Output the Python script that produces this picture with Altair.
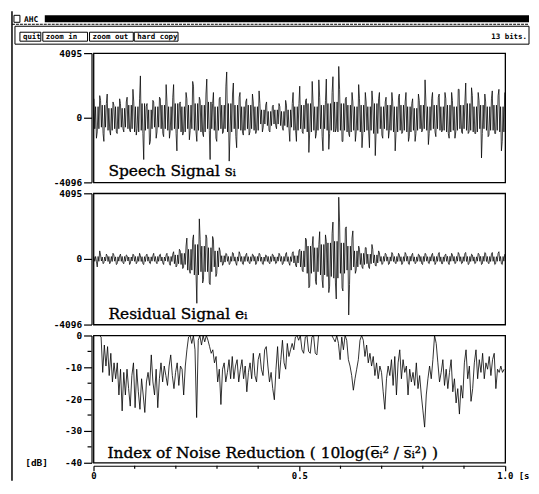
import altair as alt
import pandas as pd

# ---------------- data ----------------
# Speech signal s_i : per-column maximum / minimum (124 columns across 0..1 s)
speech_hi = [1200, 1400, 1100, 900, 1500, 1000, 800, 1200, 900, 1000,
             1300, 1800, 1000, 1200, 2650, 700, 900, 1100, 1000, 1300,
             1200, 2100, 1000, 1300, 2100, 900, 1000, 1600, 1200, 2300,
             2000, 1300, 1100, 1500, 2450, 900, 1600, 1200, 1300, 2000,
             2900, 1500, 2200, 1300, 1600, 1000, 1200, 1500, 1000, 1700,
             900, 800, 1000, 700, 800, 900, 700, 1100, 800, 900,
             1600, 900, 2000, 1100, 1200, 2300, 1000, 2400, 1300, 1100,
             2450, 1600, 2600, 3250, 1800, 1200, 1300, 1600, 1000, 2100,
             1200, 1600, 1000, 1700, 1000, 1200, 1600, 1000, 1300, 1600,
             1000, 1300, 1500, 1000, 1600, 900, 1200, 1500, 1100, 2400,
             1000, 1200, 1600, 1300, 1500, 1600, 1200, 1600, 1100, 1800,
             1800, 1000, 2200, 1900, 1400, 1600, 1100, 1500, 1000, 1200,
             1700, 1400, 1800, 1600]
speech_lo = [-1300, -900, -1000, -1500, -800, -1100, -900, -1000, -700, -900,
             -800, -900, -1100, -700, -1000, -2650, -1700, -1500, -1300, -900,
             -1000, -1200, -1300, -800, -1000, -2100, -1100, -900, -1400, -800,
             -900, -1500, -1000, -1200, -800, -2650, -1300, -1500, -1000, -900,
             -2750, -1100, -1200, -1900, -900, -1100, -1100, -900, -1000, -800,
             -900, -600, -800, -900, -500, -700, -600, -800, -700, -1500,
             -800, -1500, -900, -1000, -2200, -900, -1300, -1000, -1200, -2100,
             -2000, -1000, -900, -700, -1500, -1500, -1000, -1200, -1500, -900,
             -1900, -1000, -900, -1900, -2400, -900, -1100, -1300, -1300, -800,
             -2100, -1000, -1000, -900, -1500, -1200, -1500, -1000, -900, -800,
             -1700, -1000, -900, -1200, -900, -800, -1000, -1300, -1300, -900,
             -900, -1000, -1000, -900, -1000, -1000, -2550, -1000, -1200, -1100,
             -1000, -1000, -2100, -1500]
# dense inner band of the speech trace (one value per two columns)
speech_mid_hi = [700, 800, 600, 700, 600, 800, 700, 900, 500, 700,
                 800, 700, 900, 700, 800, 900, 800, 1000, 700, 800,
                 900, 800, 700, 800, 700, 500, 400, 500, 400, 500,
                 700, 800, 900, 700, 800, 900, 1000, 900, 800, 700,
                 800, 700, 900, 700, 800, 700, 800, 700, 600, 800,
                 700, 800, 700, 800, 700, 800, 900, 700, 800, 700,
                 800, 700]
speech_mid_lo = [-700, -600, -800, -700, -600, -700, -900, -800, -700, -600,
                 -700, -800, -700, -900, -700, -800, -900, -700, -800, -700,
                 -900, -700, -800, -700, -800, -400, -500, -400, -500, -600,
                 -800, -700, -900, -800, -700, -800, -900, -800, -900, -800,
                 -900, -800, -1000, -700, -800, -900, -800, -900, -800, -700,
                 -800, -700, -800, -900, -800, -700, -800, -900, -700, -800,
                 -800, -900]

# Residual signal e_i : per-column maximum / minimum
res_hi = [150, 500, 250, 300, 200, 350, 250, 200, 300, 250,
          200, 300, 250, 350, 200, 250, 300, 200, 350, 250,
          300, 250, 350, 300, 450, 600, 500, 800, 1300, 1200,
          1500, 2500, 1200, 1500, 1300, 1400, 1200, 700, 500, 350,
          300, 400, 350, 450, 300, 250, 350, 300, 250, 350,
          300, 250, 200, 300, 250, 350, 250, 300, 400, 350,
          450, 500, 600, 1300, 1200, 800, 1400, 900, 1700, 1500,
          1100, 1600, 2300, 3850, 2300, 1900, 2000, 1300, 1750, 800,
          600, 700, 700, 900, 600, 500, 400, 350, 300, 400,
          300, 350, 250, 400, 300, 250, 350, 300, 250, 350,
          300, 250, 350, 300, 400, 250, 300, 350, 250, 400,
          300, 350, 400, 300, 250, 350, 300, 400, 350, 300,
          400, 350, 450, 300]
res_lo = [-150, -500, -300, -250, -300, -200, -350, -300, -250, -300,
          -350, -250, -300, -200, -300, -350, -250, -300, -200, -300,
          -250, -350, -300, -400, -500, -400, -600, -500, -700, -900,
          -900, -2770, -1500, -1300, -1500, -1600, -1100, -900, -400, -300,
          -350, -300, -250, -400, -300, -350, -250, -300, -350, -250,
          -300, -350, -250, -300, -300, -250, -350, -300, -250, -400,
          -400, -500, -700, -800, -1800, -1700, -1400, -1600, -1300, -1800,
          -2100, -1700, -1500, -2500, -1800, -2000, -3500, -1600, -900, -700,
          -500, -600, -500, -600, -400, -450, -350, -300, -350, -300,
          -250, -300, -350, -250, -300, -350, -300, -250, -300, -350,
          -250, -300, -350, -250, -300, -300, -250, -350, -300, -250,
          -300, -250, -350, -300, -300, -250, -350, -300, -250, -300,
          -350, -300, -300, -350]
res_mid_hi = [150, 120, 150, 130, 150, 120, 150, 140, 130, 150, 120, 150,
              250, 350, 600, 900, 800, 700, 500, 200,
              150, 130, 150, 140, 150, 120, 150, 130, 150, 140, 200,
              500, 800, 700, 900, 1000, 1100, 1000, 800, 500,
              350, 300, 250,
              150, 130, 150, 140, 160, 130, 150, 140, 150, 130, 160, 150, 140,
              150, 130, 160, 150, 140, 150]
res_mid_lo = [-150, -130, -160, -140, -150, -130, -150, -160, -140, -150, -130, -160,
              -300, -350, -700, -1000, -800, -800, -500, -200,
              -150, -140, -160, -150, -140, -150, -160, -140, -150, -160, -250,
              -500, -900, -800, -1000, -1100, -1200, -900, -700, -500,
              -350, -300, -250,
              -150, -140, -160, -150, -140, -150, -160, -140, -150, -160, -150, -140,
              -150, -160, -140, -150, -160, -150, -140]

# Index of noise reduction [dB]
nr_first = [0, -0.5, -11.6, -3, -9.6, -3.5, -12.6, -5.6, -14.6, -8.6,
            -13.6, -8.6, -18.7, -10.6, -23.7, -11.6, -18.7, -10.6, -16.7, -22.2,
            -12.6, -8.6, -22.7, -10.6, -17.7, -23.2, -13.6, -18.7, -24.2, -14.6,
            -11.6, -15.7, -6.1, -14.6, -18.7, -10.6, -22.7, -13.6, -8.6, -14.6,
            -9.6, -12.6, -15.7, -9.6, -6.1, -12.6, -16.7, -11.6, -8.6, -15.7,
            -9.6, -10.6, -18.7, -9.6, -4.5, -0.5, 0, -2.5, 0, -4.5,
            -25.8, -1.5, 0, -3, 0, -2, 0, -1.5, -3.5, -5.6,
            -4.5, -8.6, -6.6, -14.6, -10.6, -21.7, -10.6, -8.6, -14.6, -11.6,
            -7.6, -13.6, -6.6, -13.6, -9.6, -7.6, -14.6, -10.6, -7.6, -13.6,
            -9.6, -17.7, -11.6, -8.6, -13.6, -5.6, -12.6, -14.6, -7.6, -5.6,
            -10.6, -12.6, -4.5, -3.5, -9.6, -14.6, -11.6, -16.7, -20.2, -10.6,
            -3.5, -13.6, -7.6, -1.5, -8.6, -10.6, -2.5, -6.6, -4.5, -2.5,
            -4.5, -0.5, 0]
nr_second = [-1.5, 0, -4.5, -5.6, -0.5, 0, -5, -5.6, -0.5, 0,
             -5.6, -6.1, 0, 0, 0, 0, 0, 0, 0, 0,
             0, -1, -2, 0, -2.5, -7.6, -0.5, -4.5, 0, -1.5,
             -7.6, -9.6, -12.6, -17.2, -13.6, -10.6, -7.6, -1.5, 0, -1.5,
             -6.6, -3, -8.6, -5.6, -9.6, -6.6, -12.6, -8.6, -13.6, -9.6,
             -11.6, -17.7, -23.2, -13.6, -9.6, -12.6, -7.6, -15.7, -6.6, -18.7,
             -8.6, -4.5, -13.6, -7.6, -11.6, -9.6, -18.7, -10.6, -14.6, -11.6,
             -15.7, -8.6, -16.7, -12.6, -18.7, -23.7, -28.8, -18.7, -13.6, -9.6,
             -13.6, -7.6, 0, -2.5, -8.6, -14.6, -11.6, -7.6, -15.7, -10.6,
             -16.7, -11.6, -7.6, -17.7, -13.6, -21.2, -16.7, -24.7, -15.7, -19.7,
             -8.6, -4.5, -13.6, -9.6, -20.7, -16.7, -8.6, -4.5, -13.6, -7.6,
             -11.6, -5.6, -13.6, -8.6, -10.6, -6.6, -12.6, -7.6, -5.6, -16.7,
             -10.6, -11.6, -9.6, -11.6, -10.6]
nr_first_span = (0.0145, 0.4944)   # time range (s) of first block of samples
nr_second_span = (0.4984, 0.9976)  # time range (s) of second block

y_ticks_sig = [-4096, 0, 4095]
y_ticks_db = [-40, -30, -20, -10, 0]
y_minor_db = [-35, -25, -15, -5]
x_ticks = [0, 0.5, 1.0]
x_minor = [0.1, 0.2, 0.3, 0.4, 0.6, 0.7, 0.8, 0.9]


def trace(hi, lo, mid_hi, mid_lo):
    """Per column: extreme up, inner band, extreme down (order alternates)."""
    n = len(hi)
    rows = []
    for i in range(n):
        mh, ml = mid_hi[i // 2], mid_lo[i // 2]
        seq = [hi[i], ml, mh, lo[i]] if i % 2 == 0 else [lo[i], mh, ml, hi[i]]
        for k, v in enumerate(seq):
            rows.append({"t": (i + (k + 0.5) / 4) / n, "v": v})
    return pd.DataFrame(rows)


def series(vals, span):
    a, b = span
    n = len(vals)
    return [{"t": a + (b - a) * i / (n - 1), "v": v} for i, v in enumerate(vals)]


sp_df = trace(speech_hi, speech_lo, speech_mid_hi, speech_mid_lo)
re_df = trace(res_hi, res_lo, res_mid_hi, res_mid_lo)
nr_df = pd.DataFrame(series(nr_first, nr_first_span) + series(nr_second, nr_second_span))

# ---------------- styling ----------------
W = 414
H1, H2, H3 = 130, 132, 128
MONO = "DejaVu Sans Mono"
SERIF = "DejaVu Serif"
xs = alt.Scale(domain=[0, 1], nice=False, zero=False)
one = pd.DataFrame({"a": [0]})


def yaxis(values, expr):
    return alt.Axis(values=values, title=None, grid=False, offset=2, tickSize=8,
                    tickColor="black", domainColor="black", tickWidth=1.2, domainWidth=1.2,
                    labelFont=MONO, labelFontSize=9.5, labelFontWeight="bold",
                    labelColor="black", labelPadding=2, labelFlush=False,
                    labelOverlap=False, labelExpr=expr)


def rect(x, x2, y, y2, fill="white", op=0.0, sw=1.0):
    return alt.Chart(one).mark_rect(fill=fill, fillOpacity=op, stroke="black",
                                    strokeWidth=sw).encode(
        x=alt.value(x), x2=alt.value(x2), y=alt.value(y), y2=alt.value(y2))


def rule(x, x2, y, y2, sw=1.0, dash=None):
    kw = {"strokeDash": dash} if dash else {}
    return alt.Chart(one).mark_rule(color="black", strokeWidth=sw, **kw).encode(
        x=alt.value(x), x2=alt.value(x2), y=alt.value(y), y2=alt.value(y2))


def label(txt, x, y, size=7.5, font=MONO, weight="bold", align="left", bold_stroke=0.0):
    kw = {"stroke": "black", "strokeWidth": bold_stroke} if bold_stroke else {}
    return alt.Chart(pd.DataFrame({"s": [txt]})).mark_text(
        align=align, baseline="alphabetic", font=font, fontSize=size,
        fontWeight=weight, color="black", **kw).encode(
        x=alt.value(x), y=alt.value(y), text="s:N")


sig_expr = "'' + datum.value"
sig_scale = alt.Scale(domain=[-4096, 4095], nice=False, zero=False)

# ---------- panel 1 : speech ----------
p1_line = alt.Chart(sp_df).mark_line(color="black", strokeWidth=0.75).encode(
    x=alt.X("t:Q", scale=xs, axis=None),
    y=alt.Y("v:Q", scale=sig_scale, axis=yaxis(y_ticks_sig, sig_expr)))
p1_txt = label("Speech Signal sᵢ", 15, 124, size=15.5, font=SERIF, weight="normal",
               bold_stroke=0.35)

chrome = [
    rule(-82, -82, -42, 430, sw=1.5),                 # window left frame
    rect(-80, -74, -38, -31, sw=1),                   # title-bar icon
    label("AHC", -70, -31.5, size=8),
    rect(-49, 438, -38, -31, fill="black", op=1.0, sw=0),
    rule(-82, 438, -29, -29, sw=1, dash=[3, 1]),
    rect(-79, 438, -27, -9, sw=1),                    # button row
    rect(-74, -53, -21, -12), label("quit", -71, -14),
    rect(-51, -6, -21, -12), label("zoom in", -48, -14),
    rect(-4, 40, -21, -12), label("zoom out", -1, -14),
    rect(41, 85, -21, -12), label("hard copy", 44, -14),
    label("13 bits.", 400, -14),
]
p1 = alt.layer(p1_line, p1_txt, *chrome).properties(width=W, height=H1)

# ---------- panel 2 : residual ----------
p2_line = alt.Chart(re_df).mark_line(color="black", strokeWidth=0.75).encode(
    x=alt.X("t:Q", scale=xs, axis=None),
    y=alt.Y("v:Q", scale=sig_scale, axis=yaxis(y_ticks_sig, sig_expr)))
p2_txt = label("Residual Signal eᵢ", 15, 126, size=15.5, font=SERIF, weight="normal",
               bold_stroke=0.35)
p2 = alt.layer(p2_line, p2_txt).properties(width=W, height=H2)

# ---------- panel 3 : noise reduction ----------
db_scale = alt.Scale(domain=[-40, 0], nice=False, zero=False, clamp=True)
db_expr = "datum.value == -40 ? '[dB]\u00a0\u00a0\u00a0-40' : '' + datum.value"
db_axis = yaxis(y_ticks_db, db_expr)
x_axis = alt.Axis(values=x_ticks, title=None, grid=False, offset=3, tickSize=5,
                  tickColor="black", domainColor="black", tickWidth=1.2,
                  domainWidth=1.2, labelFont=MONO, labelFontSize=9,
                  labelFontWeight="bold", labelColor="black", labelPadding=1,
                  labelFlush=False, labelOverlap=False,
                  labelExpr="datum.value == 1 ? '' : (datum.value == 0 ? '0' : '0.5')")
p3_line = alt.Chart(nr_df).mark_line(color="black", strokeWidth=0.8).encode(
    x=alt.X("t:Q", scale=xs, axis=x_axis),
    y=alt.Y("v:Q", scale=db_scale, axis=db_axis))
ymin = alt.Chart(pd.DataFrame({"v": y_minor_db})).mark_rule(color="black", strokeWidth=1.2).encode(
    y=alt.Y("v:Q", scale=db_scale, axis=db_axis), x=alt.value(-6), x2=alt.value(-2))
xmin = alt.Chart(pd.DataFrame({"t": x_minor})).mark_rule(color="black", strokeWidth=1.2).encode(
    x=alt.X("t:Q", scale=xs, axis=x_axis), y=alt.value(H3 + 3), y2=alt.value(H3 + 6))
xend = alt.Chart(pd.DataFrame({"t": [1.0], "s": ["1.0 [s"]})).mark_text(
    align="left", baseline="top", font=MONO, fontSize=9, fontWeight="bold",
    color="black", dx=-8).encode(
    x=alt.X("t:Q", scale=xs, axis=x_axis), y=alt.value(H3 + 9), text="s:N")
p3_txt = label("Index of Noise Reduction ( 10log(e\u0305ᵢ² / s\u0305ᵢ²) )", 14, 123,
               size=15.5, font=SERIF, weight="normal", bold_stroke=0.35)
p3 = alt.layer(p3_line, ymin, xmin, xend, p3_txt).properties(width=W, height=H3)

chart = alt.vconcat(p1, p2, p3, spacing=11, bounds="flush").configure_view(
    stroke="black", strokeWidth=1.3).properties(
    padding={"left": 2, "top": 0, "right": 0, "bottom": 0}, background="white")

chart.save("out.html", embed_options={"renderer": "svg", "actions": False})
